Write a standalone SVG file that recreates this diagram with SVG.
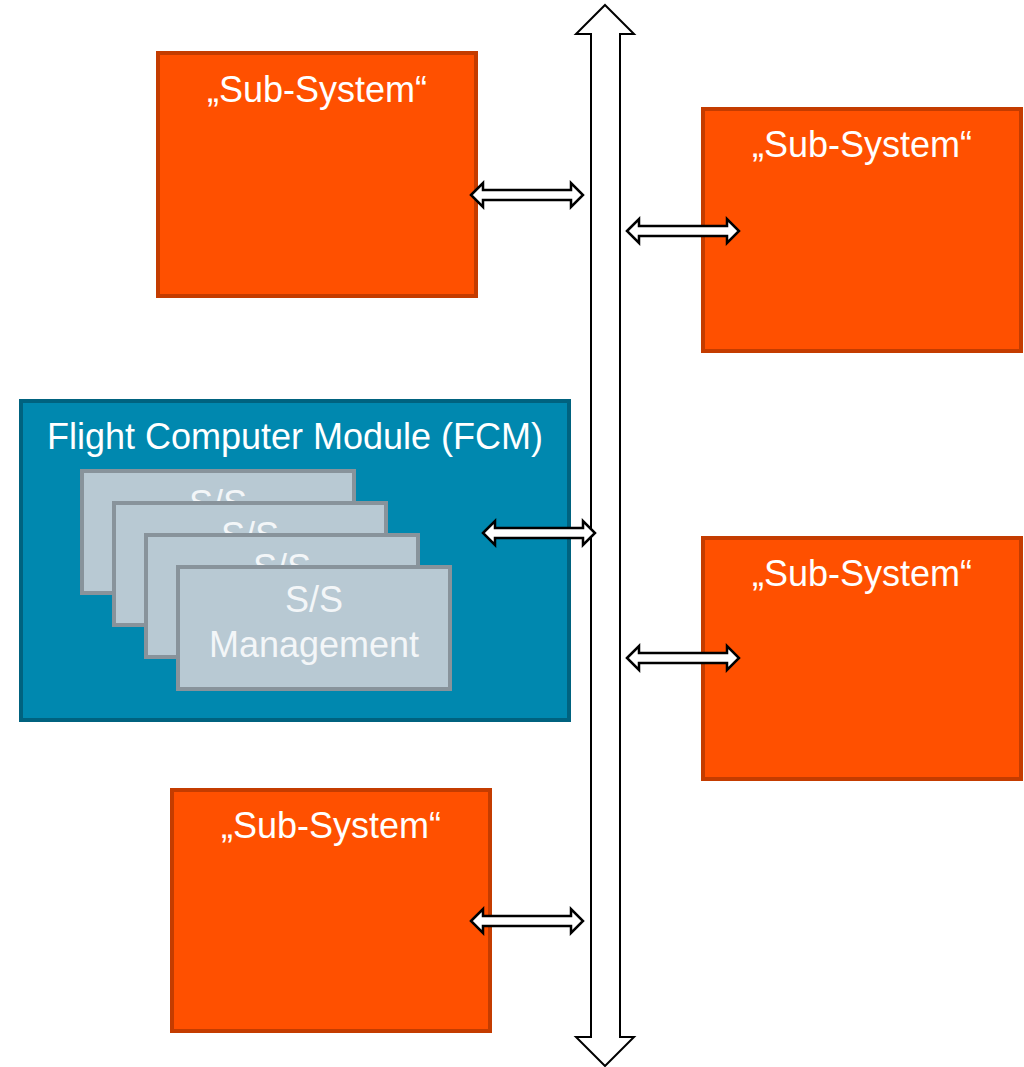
<svg xmlns="http://www.w3.org/2000/svg" xmlns:xlink="http://www.w3.org/1999/xlink" width="1024" height="1067" viewBox="0 0 1024 1067">
<style>
.sub{fill:#FF5000;stroke:#C43C00;stroke-width:4}
.fcm{fill:#0088AF;stroke:#00627F;stroke-width:4}
.card{fill:#B8C9D3;stroke:#88939B;stroke-width:4}
.t{font-family:"Liberation Sans",Arial,sans-serif;font-size:36px;fill:#FFFFFF;text-anchor:middle}
.ct{font-family:"Liberation Sans",Arial,sans-serif;font-size:36px;fill:#F3F6F8;text-anchor:middle}
.arr{fill:#FFFFFF;stroke:#000000;stroke-width:2.5;stroke-linejoin:miter}
.bus{fill:#FFFFFF;stroke:#000000;stroke-width:2}
</style>
<defs>
<path id="dbl" class="arr" d="M0,0 L12,-12 L12,-5 L100,-5 L100,-12 L112,0 L100,12 L100,5 L12,5 L12,12 Z"/>
</defs>
<rect width="1024" height="1067" fill="#FFFFFF"/>
<g id="sub1">
<rect class="sub" x="158" y="53" width="318" height="243"/>
<text class="t" x="317" y="102">„Sub-System“</text>
</g>
<g id="sub2">
<rect class="sub" x="703" y="109" width="318" height="242"/>
<text class="t" x="862" y="157">„Sub-System“</text>
</g>
<g id="sub3">
<rect class="sub" x="703" y="538" width="318" height="241"/>
<text class="t" x="862" y="586">„Sub-System“</text>
</g>
<g id="sub4">
<rect class="sub" x="172" y="790" width="318" height="241"/>
<text class="t" x="331" y="838">„Sub-System“</text>
</g>
<g id="fcm">
<rect class="fcm" x="21" y="401" width="548" height="319"/>
<text class="t" x="295" y="449">Flight Computer Module (FCM)</text>
<g id="card1">
<rect class="card" x="82" y="471" width="272" height="122"/>
<text class="ct" x="218" y="516">S/S</text>
</g>
<g id="card2">
<rect class="card" x="114" y="503" width="272" height="122"/>
<text class="ct" x="250" y="548">S/S</text>
</g>
<g id="card3">
<rect class="card" x="146" y="535" width="272" height="122"/>
<text class="ct" x="282" y="580">S/S</text>
</g>
<g id="card4">
<rect class="card" x="178" y="567" width="272" height="122"/>
<text class="ct" x="314" y="612">S/S</text>
<text class="ct" x="314" y="657">Management</text>
</g>
</g>
<g id="connectors">
<polygon id="bus" class="bus" points="605,5 634,34 620,34 620,1037 634,1037 605,1066 576,1037 591,1037 591,34 576,34"/>
<use xlink:href="#dbl" href="#dbl" x="471" y="195"/>
<use xlink:href="#dbl" href="#dbl" x="627" y="231"/>
<use xlink:href="#dbl" href="#dbl" x="483" y="533"/>
<use xlink:href="#dbl" href="#dbl" x="627" y="658"/>
<use xlink:href="#dbl" href="#dbl" x="471" y="921"/>
</g>
</svg>
